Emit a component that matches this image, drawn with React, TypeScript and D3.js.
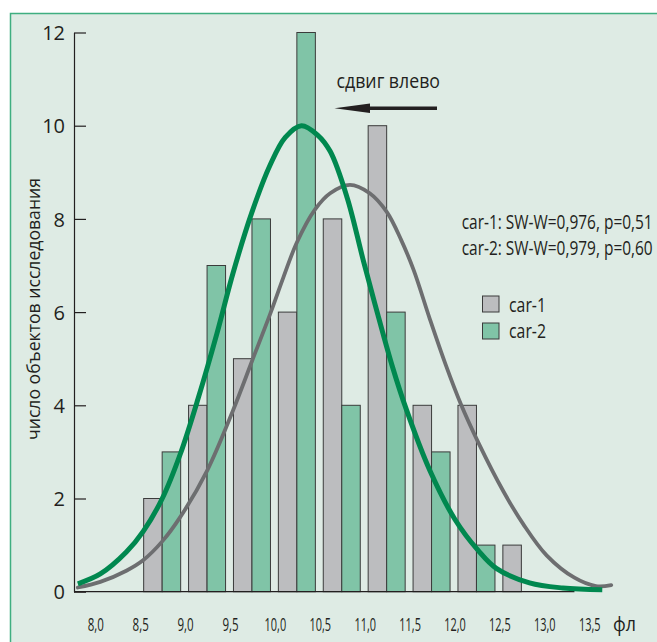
import React from "react";
import * as d3 from "d3";

// ---- data ----
const BINS = [8.5, 9.0, 9.5, 10.0, 10.5, 11.0, 11.5, 12.0, 12.5];
const CAR1 = [2, 4, 5, 6, 8, 10, 4, 4, 1];
const CAR2 = [3, 7, 8, 12, 4, 6, 3, 1, 0];
const X_TICKS = [8.0, 8.5, 9.0, 9.5, 10.0, 10.5, 11.0, 11.5, 12.0, 12.5, 13.0, 13.5];
const Y_TICKS = [0, 2, 4, 6, 8, 10, 12];

// fitted curves (x value, count)
const CURVE2: [number, number][] = [
  [7.8, 0.17], [8.05, 0.38], [8.34, 0.85], [8.53, 1.3], [8.74, 2.0], [8.94, 2.95],
  [9.14, 4.15], [9.35, 5.55], [9.53, 6.85], [9.74, 8.15], [9.94, 9.15], [10.11, 9.75],
  [10.29, 10.0], [10.47, 9.8], [10.61, 9.45], [10.8, 8.45], [10.98, 7.1], [11.14, 5.95],
  [11.3, 4.85], [11.46, 3.9], [11.72, 2.6], [12.0, 1.55], [12.26, 0.88], [12.46, 0.5],
  [12.83, 0.19], [13.2, 0.08], [13.64, 0.04],
];
const CURVE1: [number, number][] = [
  [7.8, 0.09], [8.05, 0.21], [8.34, 0.45], [8.53, 0.68], [8.74, 1.08], [8.94, 1.6],
  [9.24, 2.6], [9.53, 3.9], [9.74, 4.95], [9.94, 5.95], [10.09, 6.75], [10.24, 7.5],
  [10.44, 8.2], [10.61, 8.55], [10.83, 8.73], [11.05, 8.55], [11.24, 8.15], [11.4, 7.55],
  [11.54, 6.9], [11.72, 5.85], [11.9, 4.85], [12.06, 4.05], [12.26, 3.2], [12.54, 2.15],
  [12.76, 1.45], [13.02, 0.78], [13.33, 0.3], [13.57, 0.12], [13.74, 0.14],
];

const STATS = ["car-1: SW-W=0,976, p=0,51", "car-2: SW-W=0,979, p=0,60"];
const SERIES = ["car-1", "car-2"];

const BG = "#deebe4";
const FRAME = "#3fae80";
const GRAY_FILL = "#bcbdbf";
const GREEN_FILL = "#80c4a7";
const GREEN_LINE = "#00884f";
const GRAY_LINE = "#6d6e70";
const INK = "#231f20";
const FONT = "'Open Sans', 'DejaVu Sans', sans-serif";

// condensed text helper: horizontal squeeze by transform, exact width by textLength
function Cond({ x, y, w, sx, size, anchor, children }: any) {
  return (
    <text
      transform={`translate(${x},${y}) scale(${sx},1)`}
      textAnchor={anchor || "start"}
      fontFamily={FONT}
      fontSize={size}
      fill={INK}
      textLength={w / sx}
      lengthAdjust="spacingAndGlyphs"
    >
      {children}
    </text>
  );
}

export default function App() {
  const x = d3.scaleLinear().domain([8, 13.5]).range([95.8, 589.7]);
  const y = d3.scaleLinear().domain([0, 12]).range([591.7, 32.5]);
  const axisX = 74;
  const barOff = 0.033;
  const barW = 0.206;

  const line = d3
    .line<[number, number]>()
    .x((d) => x(d[0]))
    .y((d) => y(d[1]))
    .curve(d3.curveCatmullRom.alpha(0.5));

  const yAxisRef = React.useRef<SVGGElement>(null);
  React.useEffect(() => {
    if (!yAxisRef.current) return;
    const g = d3.select(yAxisRef.current);
    g.selectAll("*").remove();
    g.call(
      d3
        .axisLeft(y)
        .tickValues(Y_TICKS)
        .tickSizeInner(-12)
        .tickSizeOuter(0)
        .tickPadding(9)
        .tickFormat((d) => String(d))
    );
    g.select(".domain").attr("stroke", INK).attr("stroke-width", 1.2);
    g.selectAll(".tick line").attr("stroke", INK).attr("stroke-width", 1.2);
    g.selectAll(".tick text")
      .attr("fill", INK)
      .attr("font-size", 20)
      .attr("font-family", FONT)
      .attr("dy", "0.36em");
  }, []);

  return (
    <svg
      width={657}
      height={642}
      style={{ position: "absolute", left: 0, top: 0, background: "#fff" }}
    >
      <rect x={10.5} y={13.5} width={660} height={640} fill={BG} stroke={FRAME} strokeWidth={1.5} />

      {/* bars */}
      {BINS.map((b, i) => (
        <g key={b}>
          {CAR1[i] > 0 && (
            <rect
              x={x(b + barOff)}
              y={y(CAR1[i])}
              width={x(b + barOff + barW) - x(b + barOff)}
              height={y(0) - y(CAR1[i])}
              fill={GRAY_FILL}
              stroke="#3b3b3b"
              strokeWidth={1}
            />
          )}
          {CAR2[i] > 0 && (
            <rect
              x={x(b + barOff + barW)}
              y={y(CAR2[i])}
              width={x(b + barOff + 2 * barW) - x(b + barOff + barW)}
              height={y(0) - y(CAR2[i])}
              fill={GREEN_FILL}
              stroke="#3b3b3b"
              strokeWidth={1}
            />
          )}
        </g>
      ))}

      {/* x baseline */}
      <line x1={axisX} x2={x(13.33)} y1={y(0)} y2={y(0)} stroke={INK} strokeWidth={1.2} />

      {/* y axis */}
      <g ref={yAxisRef} transform={`translate(${axisX},0)`} />

      {/* curves */}
      <path d={line(CURVE1) || ""} fill="none" stroke={GRAY_LINE} strokeWidth={3.8} strokeLinecap="round" />
      <path d={line(CURVE2) || ""} fill="none" stroke={GREEN_LINE} strokeWidth={5} strokeLinecap="butt" />

      {/* x tick labels */}
      {X_TICKS.map((t) => {
        const s = t.toFixed(1).replace(".", ",");
        return (
          <Cond key={t} x={x(t)} y={630.5} w={s.length * 5.4} sx={0.6} size={19} anchor="middle">
            {s}
          </Cond>
        );
      })}
      <Cond x={613} y={630.5} w={23} sx={0.85} size={20}>
        фл
      </Cond>

      {/* y label */}
      <text
        transform="translate(40,309) rotate(-90)"
        textAnchor="middle"
        fontFamily={FONT}
        fontSize={18}
        fill={INK}
        textLength={262}
        lengthAdjust="spacingAndGlyphs"
      >
        число объектов исследования
      </text>

      {/* shift annotation */}
      <Cond x={336.5} y={88} w={103.5} sx={0.9} size={20}>
        сдвиг влево
      </Cond>
      <line x1={366} x2={437} y1={108.3} y2={108.3} stroke={INK} strokeWidth={3.4} />
      <polygon points="334.5,108.3 370,103.6 370,113" fill={INK} />

      {/* stats */}
      {STATS.map((s, i) => (
        <Cond key={s} x={461.7} y={229 + i * 26} w={191} sx={0.78} size={20}>
          {s}
        </Cond>
      ))}

      {/* legend */}
      {SERIES.map((s, i) => (
        <g key={s}>
          <rect
            x={482.5}
            y={296 + i * 27}
            width={16.5}
            height={16}
            fill={i === 0 ? GRAY_FILL : GREEN_FILL}
            stroke="#3b3b3b"
            strokeWidth={1}
          />
          <Cond x={509} y={311.7 + i * 26.5} w={37} sx={0.85} size={20}>
            {s}
          </Cond>
        </g>
      ))}
    </svg>
  );
}
